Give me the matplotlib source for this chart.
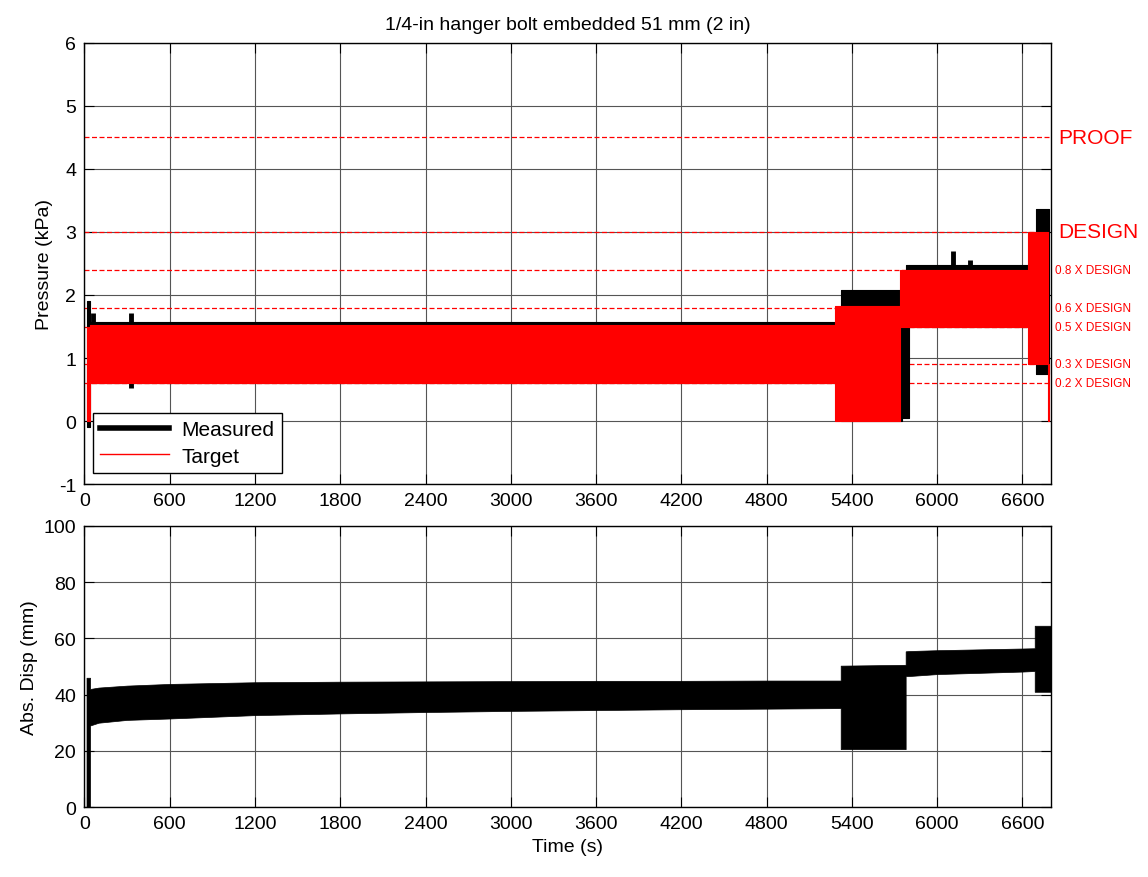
import numpy as np
import matplotlib
matplotlib.use('Agg')
import matplotlib.pyplot as plt
from matplotlib.lines import Line2D

plt.rcParams['font.family'] = ['Liberation Sans', 'DejaVu Sans']
plt.rcParams['axes.unicode_minus'] = False

# --- pressure, target envelope (step segments) ---
tgt_edges = [15, 40, 5278, 5735, 6637, 6778, 6786]
tgt_lo = [0.0, 0.6, 0.0, 1.5, 0.9, 0.0]
tgt_hi = [1.5, 1.52, 1.82, 2.4, 3.0, 0.9]

# --- pressure, measured envelope (step segments) ---
meas_edges = [15, 40, 5326, 5750, 5780, 5800, 6693, 6790]
meas_lo = [-0.1, 0.6, 0.0, 0.05, 0.05, 1.5, 0.75]
meas_hi = [1.9, 1.57, 2.08, 1.5, 2.47, 2.47, 3.37]

# isolated spikes in the measured pressure
spike_t = [60, 330, 6110, 6230]
spike_lo = [0.6, 0.52, 1.5, 1.5]
spike_hi = [1.72, 1.71, 2.70, 2.56]

# reference levels
level_vals = [4.5, 3.0, 2.4, 1.8, 1.5, 0.9, 0.6]
level_names = ['PROOF', 'DESIGN', '0.8 X DESIGN', '0.6 X DESIGN',
               '0.5 X DESIGN', '0.3 X DESIGN', '0.2 X DESIGN']

# --- displacement envelope ---
disp_t = [15, 40, 40, 100, 300, 600, 1200, 1800, 2400, 3000, 3600, 4200, 4800, 5321,
          5321, 5778, 5778, 5800, 6000, 6600, 6686, 6686, 6800]
disp_lo = [0, 0, 29, 30, 31, 31.5, 32.7, 33.3, 33.8, 34.2, 34.5, 34.8, 35.0, 35.2,
           20.6, 20.6, 46.6, 46.6, 47.3, 48.2, 48.4, 41, 41]
disp_hi = [46, 46, 42, 42.5, 43.2, 43.8, 44.4, 44.6, 44.7, 44.8, 44.9, 44.9, 45.0, 45.0,
           50.3, 50.6, 55.4, 55.5, 55.8, 56.4, 56.5, 64.5, 64.5]

xticks = np.arange(0, 6601, 600)
xmax = 6803

fig = plt.figure(figsize=(11.48, 8.78), dpi=100)
ax1 = fig.add_axes([0.0735, 0.4476, 0.8423, 0.5023])
ax2 = fig.add_axes([0.0735, 0.0797, 0.8423, 0.3201])


def step_fill(ax, edges, lo, hi, color, z):
    for i in range(len(lo)):
        ax.fill_between([edges[i], edges[i + 1]], lo[i], hi[i], color=color,
                        linewidth=0.8, edgecolor=color, zorder=z)


for ax in (ax1, ax2):
    ax.set_xlim(0, xmax)
    ax.set_xticks(xticks)
    ax.grid(True, color='#555555', linewidth=0.8)
    ax.set_axisbelow(True)
    ax.tick_params(direction='in', length=7, top=True, right=True, labelsize=14, pad=6)
    for s in ax.spines.values():
        s.set_linewidth(1.0)

# top panel
for v in level_vals:
    ax1.axhline(v, color='red', ls='--', lw=0.9, dashes=(4, 2), zorder=1)
step_fill(ax1, meas_edges, meas_lo, meas_hi, 'black', 2)
ax1.vlines(spike_t, spike_lo, spike_hi, color='black', lw=3.5, zorder=2)
step_fill(ax1, tgt_edges, tgt_lo, tgt_hi, 'red', 3)
ax1.set_ylim(-1, 6)
ax1.set_yticks(range(-1, 7))
ax1.set_ylabel('Pressure (kPa)', fontsize=14)
ax1.set_title('1/4-in hanger bolt embedded 51 mm (2 in)', fontsize=14, pad=10)

for v, name in zip(level_vals, level_names):
    big = name in ('PROOF', 'DESIGN')
    ax1.text(1.007 if big else 1.004, v, name, color='red',
             fontsize=15 if big else 8.5, va='center', ha='left',
             transform=ax1.get_yaxis_transform(), clip_on=False)

handles = [Line2D([], [], color='black', lw=4), Line2D([], [], color='red', lw=1)]
leg = ax1.legend(handles, ['Measured', 'Target'], loc='lower left', fontsize=15,
                 fancybox=False, edgecolor='black', framealpha=1,
                 bbox_to_anchor=(0.009, 0.025), handlelength=3.3, borderpad=0.35,
                 labelspacing=0.35, handletextpad=0.6, borderaxespad=0)
leg.get_frame().set_linewidth(1.0)
leg.set_zorder(5)

# bottom panel
ax2.fill_between(disp_t, disp_lo, disp_hi, color='black', linewidth=0.5, zorder=2)
ax2.set_ylim(0, 100)
ax2.set_yticks(range(0, 101, 20))
ax2.set_ylabel('Abs. Disp (mm)', fontsize=14)
ax2.set_xlabel('Time (s)', fontsize=14)

fig.savefig('out.png', dpi=100)
